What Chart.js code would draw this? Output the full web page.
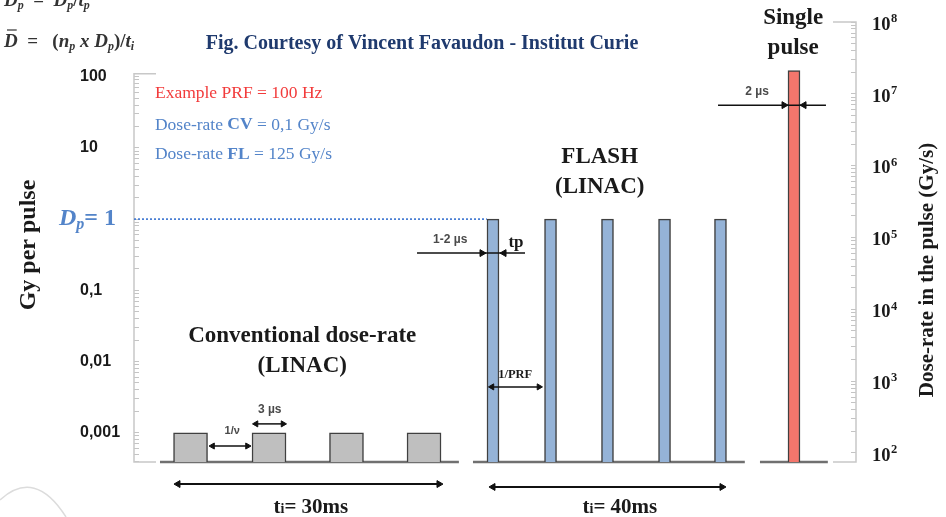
<!DOCTYPE html>
<html>
<head>
<meta charset="utf-8">
<script src="https://cdn.jsdelivr.net/npm/chart.js@4.4.0/dist/chart.umd.min.js"></script>
<style>
  html, body { margin: 0; padding: 0; background: #fff; }
  #wrap { width: 946px; height: 517px; }
</style>
</head>
<body>
<div id="wrap"><canvas id="pulsos" width="946" height="517"></canvas></div>
<script>
// Datos del esquema (tiempo en unidades arbitrarias del dibujo, 0-100)
const convTimes = [7.83, 18.7, 29.43, 40.17];
const convDose = [0.001, 0.001, 0.001, 0.001];      // Gy por pulso
const flashTimes = [49.72, 57.69, 65.58, 73.48, 81.23];
const flashDose = [1, 1, 1, 1, 1];                  // Gy por pulso
const singleTimes = [91.41];
const singleRate = [2.1e7];                         // Gy/s en el pulso

const leftTicks = [100, 10, 1, 0.1, 0.01, 0.001];
const leftTickLabels = ['100', '10', '', '0,1', '0,01', '0,001'];
const rightTicks = [1e8, 1e7, 1e6, 1e5, 1e4, 1e3, 1e2];
const rightTickLabels = ['10⁸', '10⁷', '10⁶', '10⁵', '10⁴', '10³', '10²'];

// Límites de los ejes (el área llega hasta abajo para las cotas ti)
const LEFT_MIN = 6.55e-5, LEFT_MAX = 586, LEFT_BASE = 3.87e-4, LEFT_TOP = 110;
const RIGHT_MIN = 12.85, RIGHT_MAX = 1e8, RIGHT_BASE = 75;

// Líneas base de cada tren de pulsos [inicio, fin]
const baselines = [[3.6, 45.0], [46.95, 84.6], [86.7, 96.1]];

// Flechas de cotas
const arrows = [
    { axis: 'y', y: 6.5e-4, xs: [10.88, 15.72], rot: [270, 90], r: 3.5, w: 1.5 },   // 1/v
    { axis: 'y', y: 1.33e-3, xs: [16.9, 20.64], rot: [270, 90], r: 3.5, w: 1.5 },   // 3 µs
    { axis: 'y', y: 1.9e-4, xs: [6.09, 42.24], rot: [270, 90], r: 4, w: 2 },        // ti 30
    { axis: 'y', y: 1.73e-4, xs: [49.72, 81.44], rot: [270, 90], r: 4, w: 2 },      // ti 40
    { axis: 'y', y: 4.4e-3, xs: [49.58, 56.09], rot: [270, 90], r: 3.5, w: 1.5 },   // 1/PRF
    { axis: 'y', y: 0.333, xs: [39.2, 48.2, 51.25, 54.16], rot: [0, 90, 270, 0], r: [0, 4, 4, 0], w: 1.5 }, // tp
    { axis: 'y2', y: 6.96e6, xs: [80.89, 90.03, 92.8, 95.84], rot: [0, 90, 270, 0], r: [0, 4, 4, 0], w: 1.5 } // 2 µs
];

const SERIF = '"Liberation Serif", "DejaVu Serif", serif';
const SANS = '"Liberation Sans", Arial, sans-serif';
const BLUE = '#5384c9';
const RED = '#f23b3b';
const SUP = '⁰¹²³⁴⁵⁶⁷⁸⁹';

function logTicks(min, max) {
    const out = [];
    for (let k = Math.floor(Math.log10(min)); k <= Math.ceil(Math.log10(max)); k++) {
        for (let m = 1; m < 10; m++) {
            const v = m * Math.pow(10, k);
            if (v >= min * 0.999 && v <= max * 1.001) out.push(v);
        }
    }
    return out;
}

function labelFor(v, values, labels) {
    const i = values.findIndex(t => Math.abs(Math.log10(t) - Math.log10(v)) < 1e-6);
    return i >= 0 ? labels[i] : '';
}

// Texto con varias partes (subíndices, negritas...)
function rich(ctx, x, y, parts, align) {
    let w = 0;
    parts.forEach(p => { ctx.font = p.f; p.w = ctx.measureText(p.t).width + (p.gap || 0); w += p.w; });
    let cx = align === 'center' ? x - w / 2 : (align === 'right' ? x - w : x);
    ctx.textAlign = 'left';
    ctx.textBaseline = 'middle';
    parts.forEach(p => {
        ctx.font = p.f;
        ctx.fillStyle = p.c || '#1a1a1a';
        ctx.fillText(p.t, cx, y + (p.dy || 0));
        if (p.bar) {
            ctx.strokeStyle = p.c || '#1a1a1a';
            ctx.lineWidth = 1.2;
            ctx.beginPath();
            ctx.moveTo(cx + 3, y + p.bar);
            ctx.lineTo(cx + p.w - 1, y + p.bar);
            ctx.stroke();
        }
        if (p.dot) {
            ctx.beginPath();
            ctx.arc(cx + p.w / 2 + 1, y + p.dot, 1.3, 0, Math.PI * 2);
            ctx.fill();
        }
        cx += p.w;
    });
}

const b = (s) => 'bold ' + s + 'px ' + SERIF;
const bi = (s) => 'italic bold ' + s + 'px ' + SERIF;
const r = (s) => s + 'px ' + SERIF;
const sb = (s) => 'bold ' + s + 'px ' + SANS;

// Anotaciones dentro del gráfico (posición en unidades de datos)
const notes = [
    { axis: 'y', x: 2.9, y: 59, align: 'left', parts: [{ t: 'Example PRF = 100 Hz', f: r(17.5), c: RED }] },
    { axis: 'y', x: 2.9, y: 21, align: 'left', parts: [{ t: 'Dose-rate ', f: r(17.5), c: BLUE }, { t: 'CV', f: b(17.5), c: BLUE }, { t: ' = 0,1 Gy/s', f: r(17.5), c: BLUE }] },
    { axis: 'y', x: 2.9, y: 8, align: 'left', parts: [{ t: 'Dose-rate ', f: r(17.5), c: BLUE }, { t: 'FL', f: b(17.5), c: BLUE }, { t: ' = 125 Gy/s', f: r(17.5), c: BLUE }] },
    { axis: 'y', x: 23.3, y: 0.0228, align: 'center', parts: [{ t: 'Conventional dose-rate', f: b(23) }] },
    { axis: 'y', x: 23.3, y: 0.00863, align: 'center', parts: [{ t: '(LINAC)', f: b(23) }] },
    { axis: 'y', x: 64.5, y: 7.5, align: 'center', parts: [{ t: 'FLASH', f: b(23) }] },
    { axis: 'y', x: 64.5, y: 2.85, align: 'center', parts: [{ t: '(LINAC)', f: b(23) }] },
    { axis: 'y2', x: 91.3, y: 1.14e8, align: 'center', parts: [{ t: 'Single', f: b(23) }] },
    { axis: 'y2', x: 91.3, y: 4.4e7, align: 'center', parts: [{ t: 'pulse', f: b(23) }] },
    { axis: 'y', x: 24.5, y: 9.0e-5, align: 'center', parts: [{ t: 't', f: b(21) }, { t: 'i', f: b(14), dy: 2 }, { t: '= 30ms', f: b(21) }] },
    { axis: 'y', x: 67.3, y: 8.8e-5, align: 'center', parts: [{ t: 't', f: b(21) }, { t: 'i', f: b(14), dy: 2 }, { t: '= 40ms', f: b(21) }] },
    { axis: 'y', x: 13.6, y: 1.06e-3, align: 'center', parts: [{ t: '1/ν', f: sb(11), c: '#4a4a4a' }] },
    { axis: 'y', x: 18.8, y: 2.09e-3, align: 'center', parts: [{ t: '3 µs', f: sb(12), c: '#4a4a4a' }] },
    { axis: 'y', x: 43.8, y: 0.508, align: 'center', parts: [{ t: '1-2 µs', f: sb(12), c: '#4a4a4a' }] },
    { axis: 'y', x: 52.9, y: 0.46, align: 'center', parts: [{ t: 'tp', f: b(17) }] },
    { axis: 'y', x: 52.8, y: 6.5e-3, align: 'center', parts: [{ t: '1/PRF', f: b(12.5) }] },
    { axis: 'y2', x: 86.3, y: 1.06e7, align: 'center', parts: [{ t: '2 µs', f: sb(12), c: '#4a4a4a' }] }
];

// Plugin para corchetes de ejes, títulos y textos
const decorado = {
    id: 'decorado',
    beforeDatasetsDraw(chart) {
        const ctx = chart.ctx;
        const a = chart.chartArea;
        const yL = chart.scales.y;
        const yR = chart.scales.y2;
        ctx.save();
        ctx.strokeStyle = '#c8c8c8';
        ctx.lineWidth = 1.5;
        const top = yL.getPixelForValue(LEFT_TOP);
        const bot = yL.getPixelForValue(LEFT_BASE);
        const botR = yR.getPixelForValue(RIGHT_BASE);
        ctx.beginPath();
        ctx.moveTo(a.left + 22, top); ctx.lineTo(a.left, top); ctx.lineTo(a.left, bot); ctx.lineTo(a.left + 22, bot);
        ctx.moveTo(a.right - 23, a.top); ctx.lineTo(a.right, a.top); ctx.lineTo(a.right, botR); ctx.lineTo(a.right - 23, botR);
        ctx.stroke();
        // curva tenue abajo a la izquierda
        ctx.strokeStyle = '#dcdcdc';
        ctx.beginPath();
        ctx.moveTo(0, 500); ctx.quadraticCurveTo(35, 468, 66, 517);
        ctx.stroke();
        ctx.restore();
    },
    afterDatasetsDraw(chart) {
        const ctx = chart.ctx;
        const sx = chart.scales.x;
        const yR = chart.scales.y2;
        ctx.save();
        notes.forEach(n => {
            rich(ctx, sx.getPixelForValue(n.x), chart.scales[n.axis].getPixelForValue(n.y), n.parts, n.align);
        });
        // etiquetas del eje derecho (10 con exponente)
        rightTicks.forEach((v, i) => {
            const lab = rightTickLabels[i];
            const exp = String(SUP.indexOf(lab.slice(2)));
            rich(ctx, chart.chartArea.right + 16, yR.getPixelForValue(v) + 3, [
                { t: lab.slice(0, 2), f: b(18.5), gap: 0.5 },
                { t: exp, f: b(12.5), dy: -6 }
            ], 'left');
        });
        // Dp = 1 en el eje izquierdo
        const y1 = chart.scales.y.getPixelForValue(1);
        rich(ctx, 59, y1, [
            { t: 'D', f: bi(24), c: BLUE },
            { t: 'p', f: bi(16), c: BLUE, dy: 6 },
            { t: '= 1', f: b(24), c: BLUE }
        ], 'left');
        // fórmulas
        const FC = '#333';
        rich(ctx, 4, 1, [
            { t: 'D', f: bi(19), c: FC, dot: -14 }, { t: 'p', f: bi(12), c: FC, dy: 5 },
            { t: '  =  ', f: b(19), c: FC }, { t: 'D', f: bi(19), c: FC }, { t: 'p', f: bi(12), c: FC, dy: 5 },
            { t: '/', f: b(19), c: FC }, { t: 't', f: bi(19), c: FC }, { t: 'p', f: bi(12), c: FC, dy: 5 }
        ], 'left');
        rich(ctx, 4, 42, [
            { t: 'D', f: bi(19), c: FC, bar: -12 },
            { t: '  =   (', f: b(19), c: FC }, { t: 'n', f: bi(19), c: FC }, { t: 'p', f: bi(12), c: FC, dy: 5 },
            { t: ' x ', f: bi(19), c: FC }, { t: 'D', f: bi(19), c: FC }, { t: 'p', f: bi(12), c: FC, dy: 5 },
            { t: ')/', f: b(19), c: FC }, { t: 't', f: bi(19), c: FC }, { t: 'i', f: bi(12), c: FC, dy: 5 }
        ], 'left');
        // título
        rich(ctx, 422, 44, [{ t: 'Fig. Courtesy of Vincent Favaudon - Institut Curie', f: b(20), c: '#1f3a6e' }], 'center');
        // títulos de ejes
        ctx.save();
        ctx.translate(29, 245);
        ctx.rotate(-Math.PI / 2);
        rich(ctx, 0, 0, [{ t: 'Gy per pulse', f: b(24) }], 'center');
        ctx.restore();
        ctx.save();
        ctx.translate(928, 270);
        ctx.rotate(-Math.PI / 2);
        rich(ctx, 0, 0, [{ t: 'Dose-rate in the pulse (Gy/s)', f: b(21) }], 'center');
        ctx.restore();
        ctx.restore();
    }
};

const datasets = [
    {
        type: 'bar', label: 'Conventional dose-rate (LINAC)',
        data: convTimes.map((t, i) => ({ x: t, y: [LEFT_BASE, convDose[i]] })),
        yAxisID: 'y', barThickness: 34, grouped: false,
        backgroundColor: '#bfbfbf', borderColor: '#404040', borderWidth: 1.5, order: 5
    },
    {
        type: 'bar', label: 'FLASH (LINAC)',
        data: flashTimes.map((t, i) => ({ x: t, y: [LEFT_BASE, flashDose[i]] })),
        yAxisID: 'y', barThickness: 12, grouped: false,
        backgroundColor: '#95b3d7', borderColor: '#404040', borderWidth: 1.5, order: 5
    },
    {
        type: 'bar', label: 'Single pulse',
        data: singleTimes.map((t, i) => ({ x: t, y: [RIGHT_BASE, singleRate[i]] })),
        yAxisID: 'y2', barThickness: 12, grouped: false,
        backgroundColor: '#f4766c', borderColor: '#404040', borderWidth: 1.5, order: 5
    },
    {
        type: 'line', label: 'Dp',
        data: [{ x: 0, y: 1 }, { x: flashTimes[0] - 0.85, y: flashDose[0] }],
        yAxisID: 'y', borderColor: '#4a7fd4', borderWidth: 1.6, borderDash: [2, 2],
        pointRadius: 0, clip: false, order: 1
    }
];

baselines.forEach(seg => {
    datasets.push({
        type: 'line', label: 'base',
        data: seg.map(x => ({ x: x, y: LEFT_BASE })),
        yAxisID: 'y', borderColor: '#707070', borderWidth: 2.5,
        pointRadius: 0, clip: false, order: 10
    });
});

arrows.forEach(ar => {
    datasets.push({
        type: 'line', label: 'flecha',
        data: ar.xs.map(x => ({ x: x, y: ar.y })),
        yAxisID: ar.axis, borderColor: '#111', borderWidth: ar.w,
        pointStyle: 'triangle', pointRadius: ar.r, pointRotation: ar.rot,
        pointBackgroundColor: '#111', pointBorderColor: '#111', pointBorderWidth: 1,
        clip: false, order: 0
    });
});

const ctx = document.getElementById('pulsos').getContext('2d');
const grafico = new Chart(ctx, {
    type: 'bar',
    data: { datasets: datasets },
    options: {
        responsive: false,
        animation: false,
        layout: { padding: { left: 80, right: 0, top: 22, bottom: 0 }, autoPadding: false },
        plugins: {
            legend: { display: false },
            tooltip: { enabled: false },
            title: { display: false }
        },
        scales: {
            x: { type: 'linear', min: 0, max: 100, display: false, offset: false },
            y: {
                type: 'logarithmic', position: 'left', min: LEFT_MIN, max: LEFT_MAX,
                afterFit: s => { s.width = 54; s.paddingTop = 0; s.paddingBottom = 0; },
                afterBuildTicks: s => { s.ticks = logTicks(LEFT_BASE, 100).map(v => ({ value: v })); },
                border: { display: false },
                grid: { drawOnChartArea: false, drawTicks: true, tickLength: -5, tickColor: '#c4c4c4', tickWidth: 1 },
                ticks: {
                    autoSkip: false, crossAlign: 'far', padding: 0,
                    font: { family: SANS, size: 16, weight: 'bold' }, color: '#1a1a1a',
                    callback: v => labelFor(v, leftTicks, leftTickLabels)
                }
            },
            y2: {
                type: 'logarithmic', position: 'right', min: RIGHT_MIN, max: RIGHT_MAX,
                afterFit: s => { s.width = 90; s.paddingTop = 0; s.paddingBottom = 0; },
                afterBuildTicks: s => { s.ticks = logTicks(100, RIGHT_MAX).map(v => ({ value: v })); },
                border: { display: false },
                grid: { drawOnChartArea: false, drawTicks: true, tickLength: -5, tickColor: '#c4c4c4', tickWidth: 1 },
                ticks: { autoSkip: false, padding: 21, callback: () => '' }
            }
        }
    },
    plugins: [decorado]
});
</script>
</body>
</html>
